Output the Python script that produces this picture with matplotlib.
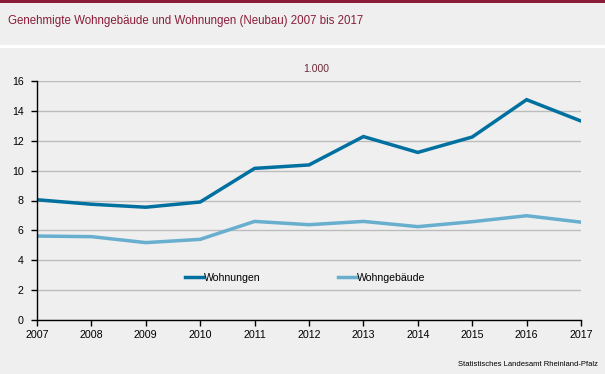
import matplotlib
matplotlib.use('Agg')
import matplotlib.pyplot as plt
from matplotlib.patches import Rectangle

years = [2007, 2008, 2009, 2010, 2011, 2012, 2013, 2014, 2015, 2016, 2017]
wohnungen = [8.05, 7.75, 7.55, 7.9, 10.15, 10.38, 12.28, 11.22, 12.25, 14.75, 13.32]
wohngebaeude = [5.62, 5.58, 5.18, 5.4, 6.6, 6.38, 6.6, 6.25, 6.58, 6.98, 6.55]

bg = '#eeefee'
red = '#8b1c3a'

fig = plt.figure(figsize=(6.05, 3.74), dpi=100, facecolor=bg)

# top band, title area separator
fig.add_artist(Rectangle((0, 1 - 3 / 374), 1, 3 / 374, transform=fig.transFigure,
                         color=red, lw=0))
fig.add_artist(Rectangle((0, 1 - 48 / 374), 1, 3 / 374, transform=fig.transFigure,
                         color='white', lw=0))
fig.text(8 / 605, 1 - 21 / 374, 'Genehmigte Wohngebäude und Wohnungen (Neubau) 2007 bis 2017',
         color=red, fontsize=8.3, va='center', ha='left', family='Liberation Sans')

ax = fig.add_axes([37 / 605, 1 - 320 / 374, 544 / 605, 239 / 374])
ax.set_facecolor(bg)

ax.plot(years, wohnungen, color='#0070a0', lw=2.5, label='Wohnungen', solid_joinstyle='miter')
ax.plot(years, wohngebaeude, color='#68aecf', lw=2.5, label='Wohngebäude', solid_joinstyle='miter')

ax.set_xlim(2007, 2017)
ax.set_ylim(0, 16)
ax.set_xticks(years)
ax.set_yticks(range(0, 17, 2))
ax.yaxis.grid(True, color='#bcbcbc', lw=1)
ax.set_axisbelow(True)
for s in ['top', 'right']:
    ax.spines[s].set_visible(False)
for s in ['left', 'bottom']:
    ax.spines[s].set_color('black')
    ax.spines[s].set_linewidth(1)
ax.tick_params(axis='both', direction='out', length=4, width=1, labelsize=7.7, color='black')
ax.tick_params(axis='y', pad=5.5)
ax.tick_params(axis='x', pad=3)
for lbl in ax.get_xticklabels() + ax.get_yticklabels():
    lbl.set_family('Liberation Sans')

ax.text(0.514, 1.05, '1.000', transform=ax.transAxes, fontsize=7.5, color='#6b2a3a',
        ha='center', va='center', family='Liberation Sans')

ax.legend(loc='center', bbox_to_anchor=(0.493, 0.176), ncol=2, frameon=False,
          handlelength=1.75, handletextpad=0.05, columnspacing=7.4,
          prop={'family': 'Liberation Sans', 'size': 7.6})

fig.text(598 / 605, 1 - 365 / 374, 'Statistisches Landesamt Rheinland-Pfalz', fontsize=5.5,
         ha='right', va='center', family='Liberation Sans')

fig.savefig('out.png', dpi=100, facecolor=bg)
